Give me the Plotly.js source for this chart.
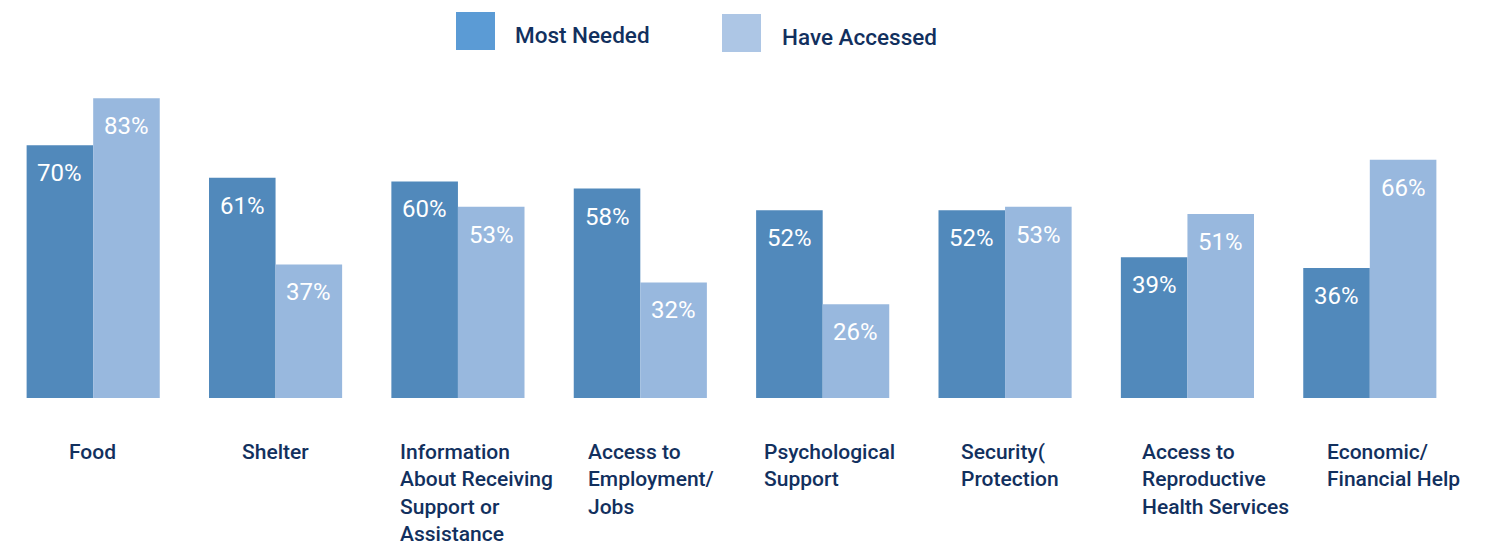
<!DOCTYPE html>
<html>
<head>
<meta charset="utf-8">
<script src="https://cdn.plot.ly/plotly-3.0.1.min.js"></script>
<style>html,body{margin:0;padding:0;background:#fff;}#chart{width:1493px;height:544px;}</style>
</head>
<body>
<div id="chart"></div>
<script>
// ---- data ----
const categories = [
  "Food",
  "Shelter",
  "Information<br>About Receiving<br>Support or<br>Assistance",
  "Access to<br>Employment/<br>Jobs",
  "Psychological<br>Support",
  "Security(<br>Protection",
  "Access to<br>Reproductive<br>Health Services",
  "Economic/<br>Financial Help"
];
const mostNeeded   = [70, 61, 60, 58, 52, 52, 39, 36];
const haveAccessed = [83, 37, 53, 32, 26, 53, 51, 66];
const seriesNames  = ["Most Needed", "Have Accessed"];

// ---- styles ----
const W = 1493, H = 544;
const M = {l: 2, r: 32, t: 10, b: 146};
const plotW = W - M.l - M.r, plotH = H - M.t - M.b;
const yMax = plotH / 3.61;
const darkBar = "#5189bb", lightBar = "#98b8de";
const legendDark = "#5b9bd5", legendLight = "#adc6e5";
const navy = "#12305e";
const labelShift = [-26, -36, -60, -54, -61, -46, -47, -45]; // px from group centre to label left edge
const idx = categories.map((_, i) => i);

const px2x = p => (p - M.l) / plotW;
const px2y = p => (H - M.b - p) / plotH;

const traces = [
  {type: "bar", x: idx, y: mostNeeded, name: seriesNames[0], marker: {color: darkBar}, hoverinfo: "skip"},
  {type: "bar", x: idx, y: haveAccessed, name: seriesNames[1], marker: {color: lightBar}, hoverinfo: "skip"}
];

const annotations = [];
const barHalf = plotW / categories.length * 0.73 / 4;
[mostNeeded, haveAccessed].forEach((vals, s) => {
  vals.forEach((v, i) => {
    annotations.push({
      x: i, y: v, xref: "x", yref: "y", text: v + "%", showarrow: false,
      xanchor: "center", yanchor: "middle",
      xshift: s === 0 ? -barHalf : barHalf, yshift: -28,
      font: {family: "Roboto, sans-serif", size: 24, color: "#ffffff"}
    });
  });
});
categories.forEach((c, i) => {
  annotations.push({
    x: i, y: px2y(437.5), xref: "x", yref: "paper", text: c, showarrow: false,
    xanchor: "left", yanchor: "top", align: "left", xshift: labelShift[i],
    font: {family: "Roboto, sans-serif", size: 21, color: navy, weight: 500}
  });
});
// legend text
annotations.push({x: px2x(513), y: px2y(35), xref: "paper", yref: "paper", text: seriesNames[0],
  showarrow: false, xanchor: "left", yanchor: "middle",
  font: {family: "Roboto, sans-serif", size: 22.5, color: navy, weight: 500}});
annotations.push({x: px2x(780), y: px2y(37), xref: "paper", yref: "paper", text: seriesNames[1],
  showarrow: false, xanchor: "left", yanchor: "middle",
  font: {family: "Roboto, sans-serif", size: 22.5, color: navy, weight: 500}});

const shapes = [
  {type: "rect", xref: "paper", yref: "paper", x0: px2x(456), x1: px2x(495), y0: px2y(50), y1: px2y(12),
   fillcolor: legendDark, line: {width: 0}},
  {type: "rect", xref: "paper", yref: "paper", x0: px2x(722), x1: px2x(761), y0: px2y(52), y1: px2y(14),
   fillcolor: legendLight, line: {width: 0}}
];

const layout = {
  width: W, height: H,
  margin: M,
  paper_bgcolor: "#ffffff", plot_bgcolor: "#ffffff",
  barmode: "group", bargap: 0.27, bargroupgap: 0,
  showlegend: false,
  xaxis: {range: [-0.5, categories.length - 0.5], showticklabels: false, showgrid: false, zeroline: false, showline: false, ticks: "", fixedrange: true},
  yaxis: {range: [0, yMax], showticklabels: false, showgrid: false, zeroline: false, showline: false, ticks: "", fixedrange: true},
  annotations: annotations,
  shapes: shapes
};

Plotly.newPlot("chart", traces, layout, {displayModeBar: false, staticPlot: true});
</script>
</body>
</html>
